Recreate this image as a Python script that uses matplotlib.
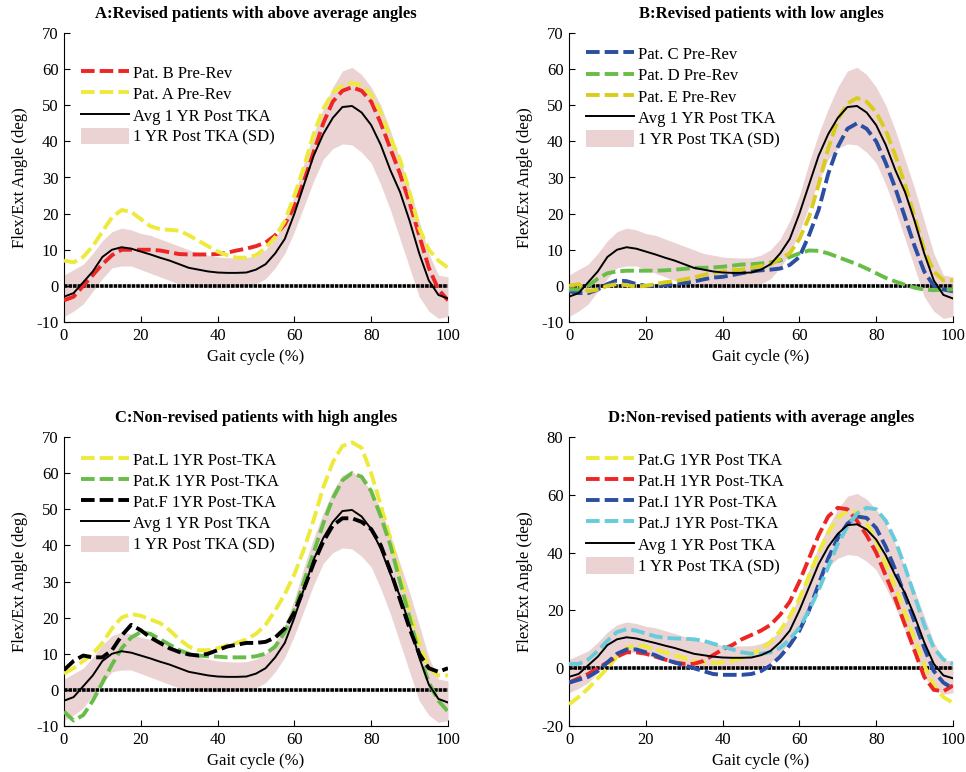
import numpy as np
import matplotlib
matplotlib.use('Agg')
import matplotlib.pyplot as plt

plt.rcParams['font.family'] = ['Liberation Serif', 'DejaVu Serif']
plt.rcParams['axes.unicode_minus'] = False

# gait cycle sample points (%)
gait = np.arange(0, 100.1, 2.5)

# average 1 YR post TKA and its SD band (same in every panel)
avg_post = [-3, -2, 1, 4, 8, 10, 10.7, 10.3, 9.5, 8.7, 7.8, 7, 6, 5, 4.5, 4, 3.7, 3.6, 3.6, 3.7, 4.5,
            6, 9, 13, 20, 28, 36, 42, 46.5, 49.5, 49.8, 48, 44.5, 39, 32, 26, 18, 9, 1.5, -2.5, -3.5]
sd_upper = [3, 4.5, 6, 9, 12.5, 15, 16, 15.5, 14.5, 14, 13, 12, 11, 10, 9, 8.5, 8, 7.8, 7.7, 7.8, 8.5,
            10, 13, 18, 25, 34, 42, 49, 55, 59.5, 60.5, 58.5, 55, 50, 43, 35, 27, 18, 9, 3, 2.5]
sd_lower = [-8.5, -7, -5, -1.5, 2, 5, 5.5, 5.5, 4.5, 3.5, 2.5, 1.5, 0.5, 0, -0.3, -0.5, -0.5, -0.5, -0.3, 0, 0.5,
            2, 5, 9, 15, 22, 29, 35, 38, 39.3, 39, 37, 34, 28, 21, 13, 5, -3, -7, -9, -8.5]

# panel A
pat_b = [-4, -3, 0, 3, 6, 8.5, 10, 10, 10, 10, 9.8, 9.3, 8.8, 8.7, 8.7, 8.7, 8.8, 9.2, 9.8, 10.3, 11,
         12, 14, 17, 22, 29, 37, 45, 51, 54, 55, 54, 51, 45, 38, 31, 23, 14, 5, -1, -4]
pat_a = [7, 6.5, 8, 11, 15, 19, 21, 20.5, 18.5, 16.5, 15.7, 15.5, 15.3, 14, 12.5, 11, 9.5, 8.5, 7.8, 7.8, 8.5,
         10.5, 13.5, 18, 25, 33, 42, 49, 53.5, 55.5, 56.2, 55.5, 53, 48, 41, 35, 26, 16, 10, 7, 5]

# panel B
pat_c = [-1.5, -2, -2, -1, 0.5, 1.5, 1.3, 0.5, 0, 0, 0.2, 0.5, 0.8, 1.2, 1.8, 2.3, 2.5, 3, 3.5, 4, 4.3,
         4.5, 4.8, 5.8, 8, 14, 21, 31, 38.5, 43.5, 45, 43.5, 40, 34, 27, 19, 11, 4, 0, -1, -1.5]
pat_d = [-1, -1, 0, 2, 3.5, 4, 4.2, 4.2, 4.2, 4.2, 4.3, 4.5, 4.7, 5, 5, 5.1, 5.3, 5.6, 5.9, 6, 6.2,
         6.5, 7, 8, 9, 9.8, 9.7, 9, 8, 7, 6, 4.8, 3.5, 2.2, 1.2, 0.3, -0.5, -1, -1.2, -1, -1]
pat_e = [0, 0.5, -1.5, -1, 0, 0.5, 0.2, -0.2, 0, 0.5, 1, 1.3, 1.8, 2.3, 3, 3.5, 4, 4.3, 4.5, 5, 5.5,
         6, 7.5, 9, 13, 19, 28, 38, 46, 50.5, 52, 51, 48, 43, 36, 28, 19, 10, 4, 1.5, 1.5]

# panel C
pat_l = [4.5, 6, 8, 10, 13, 17, 20, 21, 20.5, 19.5, 18.5, 16.5, 14, 12, 11, 11, 11.5, 12.3, 13, 14, 15.5,
         18, 22, 26.5, 32, 39, 47, 56, 63, 67.5, 68.5, 67, 60, 51, 42, 32, 22, 13, 6, 4, 4]
pat_k = [-6, -8.5, -7, -3, 2, 7, 11.5, 14.5, 16, 15.5, 14, 12.5, 11, 10, 9.5, 9.3, 9.2, 9, 9, 9, 9.3,
         10, 12, 16, 22, 30, 38, 46, 53, 58, 60, 59, 55, 48, 40, 30, 20, 10, 2, -3, -6]
pat_f = [5.5, 8, 9.5, 9, 9, 11, 15, 18, 16.5, 14.5, 13, 11.5, 10.5, 9.8, 9.5, 10, 11, 12, 12.5, 13, 13,
         13.3, 14.5, 17, 21.5, 28, 35, 41, 45.5, 47.5, 47.5, 46.5, 44.5, 40, 33, 25, 17, 10, 6, 5, 6]

# panel D
pat_g = [-12.5, -10, -7, -3.5, 0, 4, 7, 8, 7.5, 6.5, 5.5, 4.5, 3.5, 2.5, 2, 1.8, 2, 2.5, 3.5, 5, 6.5,
         9, 13, 18, 24, 32, 40, 47, 52, 54.5, 54, 50, 44, 36, 28, 19, 10, 1, -6, -10, -12]
pat_h = [-5, -3.5, -2, 0, 2, 4, 5.5, 5.5, 5, 4, 3, 2, 1.5, 1.5, 2.5, 4.5, 6.5, 8, 10, 11.5, 13,
         15, 18.5, 23, 30, 38, 46, 52.5, 55.5, 55, 51, 46, 40, 32, 24, 15, 6, -3, -7.5, -8, -6]
pat_i = [-5, -4, -3, -1, 2, 5, 6.5, 6.5, 5.5, 4.5, 3, 2, 1, 0, -1, -2, -2.3, -2.3, -2.3, -2, -1,
         1, 4, 8, 13, 20, 29, 38, 45, 50, 52.5, 52, 48.5, 42, 34, 25, 16, 7, -1, -5, -7]
pat_j = [1.5, 1.5, 3, 6, 9.5, 12.5, 13.5, 13, 12, 11, 10.5, 10.3, 10.2, 10, 9.5, 8.5, 7.5, 6.5, 5.5, 5, 5,
         5.5, 7, 10, 14, 20, 27, 35, 43, 49, 53.5, 55.5, 55, 51, 44, 35, 25, 15, 7, 3, 1.5]

RED = '#ee2525'
YELLOW = '#eeea3c'
DARKYELLOW = '#d8cc1c'
BLUE = '#2a4ea2'
GREEN = '#68bd48'
CYAN = '#66ccdc'
PINK = '#ebd3d3'

panels = [
    ('A:Revised patients with above average angles',
     [(pat_b, RED, 'Pat. B Pre-Rev'), (pat_a, YELLOW, 'Pat. A Pre-Rev')], (-10, 70, 10), 0.95),
    ('B:Revised patients with low angles',
     [(pat_c, BLUE, 'Pat. C Pre-Rev'), (pat_d, GREEN, 'Pat. D Pre-Rev'), (pat_e, DARKYELLOW, 'Pat. E Pre-Rev')],
     (-10, 70, 10), 1.015),
    ('C:Non-revised patients with high angles',
     [(pat_l, YELLOW, 'Pat.L 1YR Post-TKA'), (pat_k, GREEN, 'Pat.K 1YR Post-TKA'),
      (pat_f, 'black', 'Pat.F 1YR Post-TKA')], (-10, 70, 10), 1.01),
    ('D:Non-revised patients with average angles',
     [(pat_g, YELLOW, 'Pat.G 1YR Post TKA'), (pat_h, RED, 'Pat.H 1YR Post-TKA'),
      (pat_i, BLUE, 'Pat.I 1YR Post-TKA'), (pat_j, CYAN, 'Pat.J 1YR Post-TKA')], (-20, 80, 20), 1.01),
]

fig = plt.figure(figsize=(9.66, 7.72), dpi=100)
W, H = 966, 772
boxes = [(64, 33), (569, 33), (64, 437), (569, 437)]

for (title, pats, (ylo, yhi, ystep), leg_y), (px, py) in zip(panels, boxes):
    ax = fig.add_axes([px / W, 1 - (py + 289) / H, 384 / W, 289 / H])
    band = ax.fill_between(gait, sd_lower, sd_upper, color=PINK, lw=0, label='1 YR Post TKA (SD)')
    ax.plot([0, 100], [0, 0], color='black', ls=(0, (1, 0.25)), lw=2.6, zorder=2)
    handles = []
    for vals, col, lab in pats:
        h, = ax.plot(gait, vals, color=col, lw=2.8, ls=(0, (3.5, 1.3)), label=lab, zorder=3)
        handles.append(h)
    m, = ax.plot(gait, avg_post, color='black', lw=1.4, label='Avg 1 YR Post TKA', zorder=4)
    handles += [m, band]

    ax.set_xlim(0, 100)
    ax.set_ylim(ylo, yhi)
    ax.set_xticks(range(0, 101, 20))
    ax.set_yticks(range(ylo, yhi + 1, ystep))
    for s in ['top', 'right']:
        ax.spines[s].set_visible(False)
    ax.tick_params(direction='in', length=4, labelsize=12, pad=4)
    ax.set_title(title, fontsize=12, fontweight='bold', pad=11)
    ax.set_xlabel('Gait cycle (%)', fontsize=12, labelpad=4)
    ax.set_ylabel('Flex/Ext Angle (deg)', fontsize=12, labelpad=6)
    ax.legend(handles=handles, loc='upper left', frameon=False, fontsize=12,
              handlelength=2.9, handleheight=1.15, labelspacing=0.2, handletextpad=0.25,
              borderaxespad=0.6, bbox_to_anchor=(0.0, leg_y))

fig.savefig('out.png', dpi=100)
